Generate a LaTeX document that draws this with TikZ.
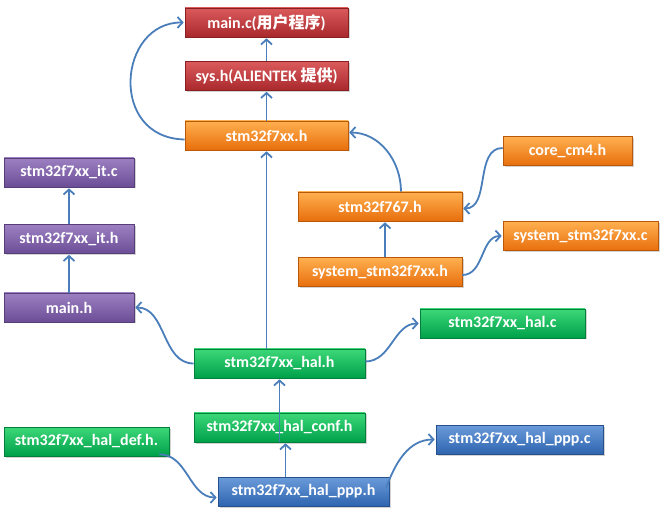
\documentclass[tikz,border=0pt]{standalone}
\usepackage{fontspec}
\setmainfont{Carlito}
\newfontfamily\cjk{Noto Sans CJK SC}
\usetikzlibrary{arrows.meta,shadows,calc}
\definecolor{arr}{HTML}{4A7EBB}
\definecolor{redT}{HTML}{DB5A5C}\definecolor{redB}{HTML}{A8282C}
\definecolor{orT}{HTML}{FFB050}\definecolor{orB}{HTML}{E86E0C}
\definecolor{puT}{HTML}{9C80C2}\definecolor{puB}{HTML}{6B4D96}
\definecolor{grT}{HTML}{3CD878}\definecolor{grB}{HTML}{00A04A}
\definecolor{blT}{HTML}{6A9BDA}\definecolor{blB}{HTML}{2F65B0}
\tikzset{
  box/.style={draw=#1B!80!black, line width=0.6pt, minimum height=29pt, inner sep=0pt,
    top color=#1T, bottom color=#1B, text=white, font=\bfseries\fontsize{16pt}{18pt}\selectfont,
    drop shadow={opacity=0.35, shadow xshift=1.5pt, shadow yshift=-1.5pt}},
  link/.style={draw=arr, line width=1.8pt, -{Straight Barb[length=5pt,width=11pt,line width=1.8pt]}, shorten >=1pt}
}
\begin{document}
\begin{tikzpicture}[x=1pt,y=-1pt]
\useasboundingbox (0,0) rectangle (664,518);
\node[box=red, minimum width=163pt] (mainc) at (266.5,22.5) {main.c({\cjk\bfseries 用户程序})};
\node[box=red, minimum width=163pt] (sysh) at (266.5,76) {sys.h(ALIENTEK {\cjk\bfseries 提供})};
\node[box=or, minimum width=163pt] (f7xx) at (266.5,135.5) {stm32f7xx.h};
\node[box=or, minimum width=129pt] (core) at (567.5,151) {core\_cm4.h};
\node[box=or, minimum width=164pt] (f767) at (380,206.5) {stm32f767.h};
\node[box=or, minimum width=155pt] (sysc) at (580.5,236) {system\_stm32f7xx.c};
\node[box=or, minimum width=164pt] (sysh2) at (380,272) {system\_stm32f7xx.h};
\node[box=pu, minimum width=130pt] (itc) at (69,172.5) {stm32f7xx\_it.c};
\node[box=pu, minimum width=130pt] (ith) at (69,239) {stm32f7xx\_it.h};
\node[box=pu, minimum width=130pt] (mainh) at (69,307.5) {main.h};
\node[box=gr, minimum width=171pt] (halh) at (279.5,363.5) {stm32f7xx\_hal.h};
\node[box=gr, minimum width=165pt] (halc) at (502.5,323.5) {stm32f7xx\_hal.c};
\node[box=gr, minimum width=171pt] (conf) at (279.5,427.5) {stm32f7xx\_hal\_conf.h};
\node[box=gr, minimum width=165pt] (def) at (86.5,441.5) {stm32f7xx\_hal\_def.h.};
\node[box=bl, minimum width=167pt] (pppc) at (519.5,439.5) {stm32f7xx\_hal\_ppp.c};
\node[box=bl, minimum width=171pt] (ppph) at (303.5,491.5) {stm32f7xx\_hal\_ppp.h};
% straight links
\draw[link] (sysh.north) -- (mainc.south);
\draw[link] (f7xx.north) -- (sysh.south);
\draw[link] (halh.north -| f7xx.south) -- (f7xx.south);
\draw[link] (ith.north) -- (itc.south);
\draw[link] (mainh.north) -- (ith.south);
\draw[link] (sysh2.north) ++(5,0) coordinate (s2n) -- (s2n |- f767.south);
\draw[link] (conf.south) -- (halh.south);
\draw[link] ($(ppph.north)+(-18,0)$) coordinate (pn) -- (pn |- conf.south);
% curved links
\draw[link] ($(f7xx.west)+(0,4)$) .. controls (108,138) and (118,22) .. (mainc.west);
\draw[link] ($(f767.north)+(21,0)$) to[out=90,in=0] ($(f7xx.east)+(0,-3)$);
\draw[link] ($(core.west)+(0,-3)$) to[out=180,in=0] ($(f767.east)+(0,2)$);
\draw[link] ($(sysh2.east)+(0,3)$) to[out=0,in=180] (sysc.west);
\draw[link] (halh.west) to[out=180,in=0] (mainh.east);
\draw[link] ($(halh.east)+(0,-2)$) to[out=0,in=180] (halc.west);
\draw[link] ($(def.south east)+(-10,-2)$) to[out=0,in=180] ($(ppph.west)+(0,6)$);
\draw[link] ($(ppph.east)+(-3,-4)$) to[out=70,in=180] (pppc.west);
\end{tikzpicture}
\end{document}
